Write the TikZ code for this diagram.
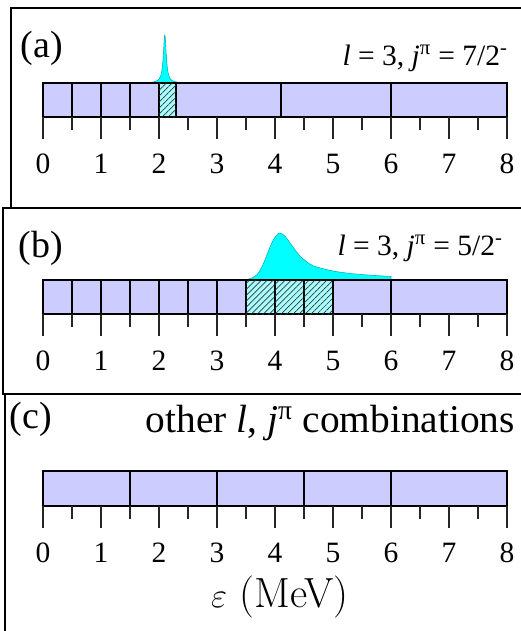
\documentclass[tikz,border=0pt]{standalone}
\usepackage{fontspec}
\setmainfont{Liberation Serif}
\newfontfamily\lmfont{Latin Modern Roman}
\usetikzlibrary{patterns.meta}
\definecolor{BinFill}{HTML}{CCCCFF}
\definecolor{HatchFill}{HTML}{A8FFFF}
\definecolor{PeakFill}{HTML}{00FFFF}
\definecolor{PeakLine}{HTML}{00B4B4}

\tikzset{
  panel/.style={line width=1.5pt, line cap=rect},
  bin/.style={draw=black, line width=1.3pt, fill=BinFill},
  hatched/.style={draw=black, line width=1.3pt, fill=HatchFill,
    postaction={pattern={Lines[angle=45,distance=3pt,line width=0.5pt]}, pattern color=black!80}},
  peak/.style={fill=PeakFill, draw=PeakLine, line width=0.4pt},
  tick/.style={line width=1pt, draw=black!85},
  ticklabel/.style={font=\fontsize{21}{24}\selectfont, inner sep=0pt},
  tag/.style={font=\fontsize{27}{32}\selectfont, inner sep=0pt},
  note/.style={font=\fontsize{21}{25}\selectfont, inner sep=0pt}
}

% ticks and numbers of one energy axis, #1 = name prefix
\newcommand{\mevaxis}[1]{%
  \foreach \e in {0,...,8} {
    \draw[tick] (\e,0) -- (\e,-22);
    \node[ticklabel] (#1\e) at (\e,-47) {\e};
  }
  \foreach \e in {0.5,1.5,...,7.5} \draw[tick] (\e,0) -- (\e,-13);
}

\begin{document}
\begin{tikzpicture}[x=0.25mm, y=-0.25mm]
  \useasboundingbox (0,0) rectangle (521,631);

  % frames
  \draw[panel] (521,8) -- (11,8) -- (11,208);
  \draw[panel] (3,208) -- (521,208);
  \draw[panel] (3,208) -- (3,394);
  \draw[panel] (5,394) -- (521,394);
  \draw[panel] (5,394) -- (5,631);

  % (a)
  \node[tag] (taga) at (42,48) {(a)};
  \node[note, anchor=base east] (notea) at (508,65)
    {\textit{l} = 3, \textit{j}\textsuperscript{π} = 7/2\textsuperscript{-}};
  \begin{scope}[shift={(43,117)}, x=14.5mm, y=0.25mm]
    \filldraw[peak] (1.85,34) -- plot[domain=1.85:2.5, samples=200]
      (\x,{34+48*0.0009/((\x-2.1)^2+0.0009)}) -- (2.5,34) -- cycle;
    \foreach \a/\b in {0/0.5,0.5/1,1/1.5,1.5/2,2.3/4.1,4.1/6,6/8}
      \draw[bin] (\a,0) rectangle (\b,34);
    \draw[hatched] (2,0) rectangle (2.3,34);
    \mevaxis{ea}
  \end{scope}

  % (b)
  \node[tag] (tagb) at (41,248) {(b)};
  \node[note, anchor=base east] (noteb) at (503,255)
    {\textit{l} = 3, \textit{j}\textsuperscript{π} = 5/2\textsuperscript{-}};
  \begin{scope}[shift={(43,314)}, x=14.5mm, y=0.25mm]
    \filldraw[peak] plot[smooth, tension=0.5] coordinates {
      (3.48,34) (3.6,36) (3.7,40) (3.79,49) (3.88,62) (3.97,74) (4.07,81)
      (4.17,78) (4.26,71) (4.43,58) (4.6,50) (4.72,47) (5.0,43) (5.3,40.5)
      (5.6,39) (6.0,37.5)} -- (6,34) -- cycle;
    \foreach \a in {0,0.5,...,3}
      \draw[bin] (\a,0) rectangle ++(0.5,34);
    \foreach \a in {3.5,4,4.5}
      \draw[hatched] (\a,0) rectangle ++(0.5,34);
    \draw[bin] (5,0) rectangle (6,34);
    \draw[bin] (6,0) rectangle (8,34);
    \mevaxis{eb}
  \end{scope}

  % (c)
  \node[tag] (tagc) at (31,419) {(c)};
  \node[note, font=\fontsize{28}{32}\selectfont, anchor=base east] (notec) at (515,432)
    {other \textit{l}, \textit{j}\textsuperscript{π} combinations};
  \begin{scope}[shift={(43,506)}, x=14.5mm, y=0.25mm]
    \foreach \a in {0,1.5,3,4.5}
      \draw[bin] (\a,0) rectangle ++(1.5,35);
    \draw[bin] (6,0) rectangle (8,35);
    \mevaxis{ec}
  \end{scope}
  \node[font=\fontsize{30}{34}\selectfont\lmfont, inner sep=0pt, anchor=base] (energy) at (280,607)
    {$\varepsilon$ (MeV)};
\end{tikzpicture}
\end{document}
